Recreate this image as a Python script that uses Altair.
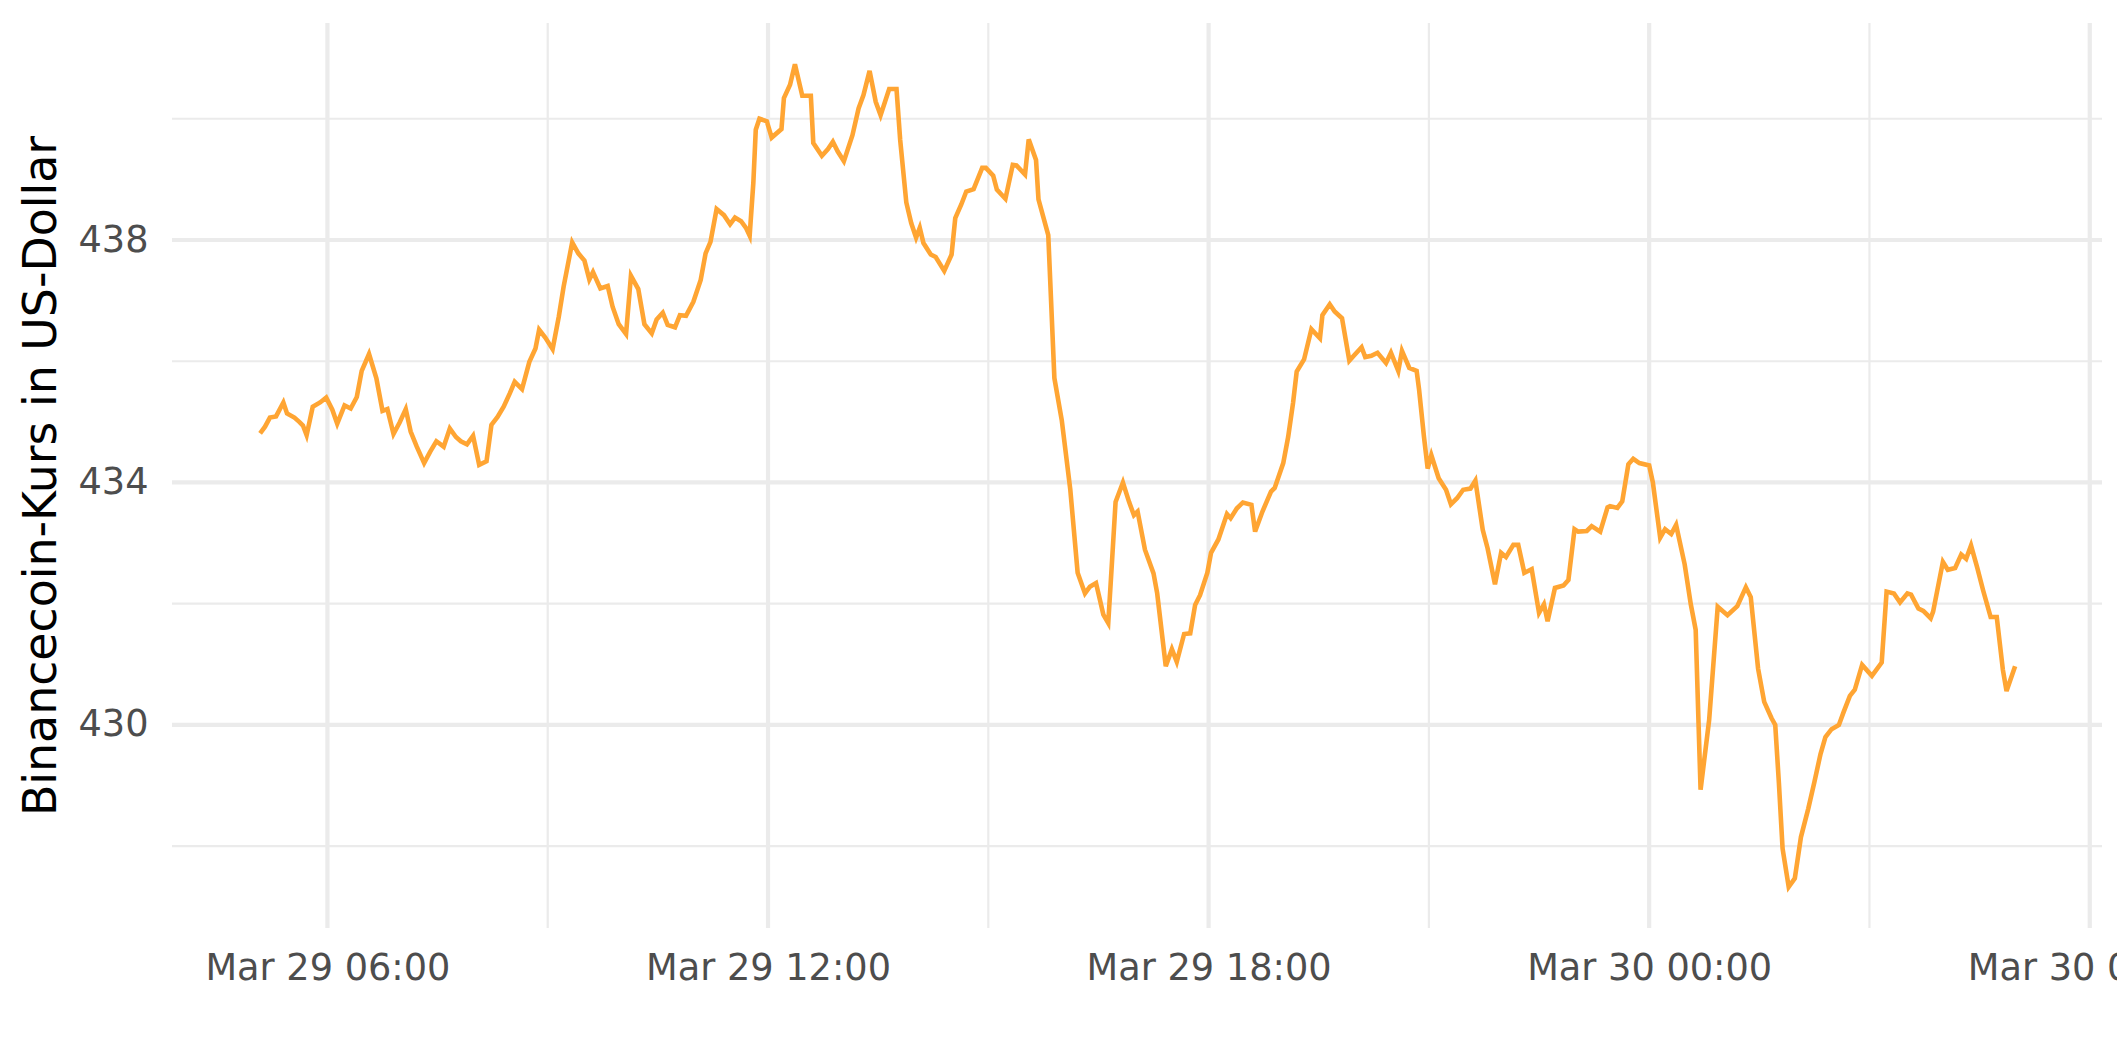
import altair as alt
import pandas as pd

# ---- data ----
times = [
    "2022-03-29T05:05", "2022-03-29T05:09", "2022-03-29T05:13", "2022-03-29T05:18", "2022-03-29T05:24",
    "2022-03-29T05:27", "2022-03-29T05:33", "2022-03-29T05:37", "2022-03-29T05:40", "2022-03-29T05:43",
    "2022-03-29T05:48", "2022-03-29T05:54", "2022-03-29T05:59", "2022-03-29T06:04", "2022-03-29T06:08",
    "2022-03-29T06:14", "2022-03-29T06:19", "2022-03-29T06:24", "2022-03-29T06:28", "2022-03-29T06:34",
    "2022-03-29T06:40", "2022-03-29T06:45", "2022-03-29T06:49", "2022-03-29T06:54", "2022-03-29T06:59",
    "2022-03-29T07:04", "2022-03-29T07:08", "2022-03-29T07:13", "2022-03-29T07:19", "2022-03-29T07:24",
    "2022-03-29T07:29", "2022-03-29T07:35", "2022-03-29T07:40", "2022-03-29T07:45", "2022-03-29T07:49",
    "2022-03-29T07:54", "2022-03-29T07:59", "2022-03-29T08:04", "2022-03-29T08:10", "2022-03-29T08:14",
    "2022-03-29T08:19", "2022-03-29T08:24", "2022-03-29T08:29", "2022-03-29T08:33", "2022-03-29T08:39",
    "2022-03-29T08:45", "2022-03-29T08:50", "2022-03-29T08:53", "2022-03-29T08:58", "2022-03-29T09:04",
    "2022-03-29T09:09", "2022-03-29T09:13", "2022-03-29T09:20", "2022-03-29T09:25", "2022-03-29T09:30",
    "2022-03-29T09:34", "2022-03-29T09:37", "2022-03-29T09:43", "2022-03-29T09:49", "2022-03-29T09:53",
    "2022-03-29T09:58", "2022-03-29T10:04", "2022-03-29T10:08", "2022-03-29T10:14", "2022-03-29T10:19",
    "2022-03-29T10:25", "2022-03-29T10:29", "2022-03-29T10:34", "2022-03-29T10:38", "2022-03-29T10:44",
    "2022-03-29T10:48", "2022-03-29T10:53", "2022-03-29T10:59", "2022-03-29T11:05", "2022-03-29T11:09",
    "2022-03-29T11:13", "2022-03-29T11:18", "2022-03-29T11:24", "2022-03-29T11:29", "2022-03-29T11:33",
    "2022-03-29T11:38", "2022-03-29T11:42", "2022-03-29T11:45", "2022-03-29T11:48", "2022-03-29T11:50",
    "2022-03-29T11:53", "2022-03-29T11:59", "2022-03-29T12:03", "2022-03-29T12:11", "2022-03-29T12:13",
    "2022-03-29T12:18", "2022-03-29T12:22", "2022-03-29T12:28", "2022-03-29T12:35", "2022-03-29T12:37",
    "2022-03-29T12:44", "2022-03-29T12:49", "2022-03-29T12:53", "2022-03-29T12:57", "2022-03-29T13:02",
    "2022-03-29T13:09", "2022-03-29T13:14", "2022-03-29T13:18", "2022-03-29T13:23", "2022-03-29T13:28",
    "2022-03-29T13:32", "2022-03-29T13:39", "2022-03-29T13:45", "2022-03-29T13:48", "2022-03-29T13:53",
    "2022-03-29T13:57", "2022-03-29T14:01", "2022-03-29T14:04", "2022-03-29T14:07", "2022-03-29T14:13",
    "2022-03-29T14:17", "2022-03-29T14:24", "2022-03-29T14:30", "2022-03-29T14:33", "2022-03-29T14:38",
    "2022-03-29T14:42", "2022-03-29T14:48", "2022-03-29T14:55", "2022-03-29T14:58", "2022-03-29T15:04",
    "2022-03-29T15:07", "2022-03-29T15:14", "2022-03-29T15:20", "2022-03-29T15:23", "2022-03-29T15:30",
    "2022-03-29T15:33", "2022-03-29T15:39", "2022-03-29T15:41", "2022-03-29T15:49", "2022-03-29T15:54",
    "2022-03-29T16:00", "2022-03-29T16:07", "2022-03-29T16:13", "2022-03-29T16:19", "2022-03-29T16:23",
    "2022-03-29T16:28", "2022-03-29T16:34", "2022-03-29T16:38", "2022-03-29T16:41", "2022-03-29T16:44",
    "2022-03-29T16:50", "2022-03-29T16:55", "2022-03-29T16:59", "2022-03-29T17:02", "2022-03-29T17:08",
    "2022-03-29T17:15", "2022-03-29T17:18", "2022-03-29T17:25", "2022-03-29T17:30", "2022-03-29T17:34",
    "2022-03-29T17:40", "2022-03-29T17:45", "2022-03-29T17:49", "2022-03-29T17:53", "2022-03-29T17:59",
    "2022-03-29T18:02", "2022-03-29T18:08", "2022-03-29T18:15", "2022-03-29T18:18", "2022-03-29T18:23",
    "2022-03-29T18:28", "2022-03-29T18:35", "2022-03-29T18:38", "2022-03-29T18:44", "2022-03-29T18:51",
    "2022-03-29T18:54", "2022-03-29T19:01", "2022-03-29T19:05", "2022-03-29T19:09", "2022-03-29T19:12",
    "2022-03-29T19:18", "2022-03-29T19:24", "2022-03-29T19:31", "2022-03-29T19:33", "2022-03-29T19:39",
    "2022-03-29T19:43", "2022-03-29T19:49", "2022-03-29T19:55", "2022-03-29T19:59", "2022-03-29T20:05",
    "2022-03-29T20:08", "2022-03-29T20:13", "2022-03-29T20:18", "2022-03-29T20:25", "2022-03-29T20:29",
    "2022-03-29T20:35", "2022-03-29T20:38", "2022-03-29T20:44", "2022-03-29T20:50", "2022-03-29T20:52",
    "2022-03-29T20:56", "2022-03-29T20:59", "2022-03-29T21:02", "2022-03-29T21:08", "2022-03-29T21:14",
    "2022-03-29T21:18", "2022-03-29T21:23", "2022-03-29T21:28", "2022-03-29T21:34", "2022-03-29T21:38",
    "2022-03-29T21:44", "2022-03-29T21:48", "2022-03-29T21:54", "2022-03-29T21:59", "2022-03-29T22:03",
    "2022-03-29T22:09", "2022-03-29T22:13", "2022-03-29T22:18", "2022-03-29T22:24", "2022-03-29T22:30",
    "2022-03-29T22:34", "2022-03-29T22:37", "2022-03-29T22:43", "2022-03-29T22:50", "2022-03-29T22:54",
    "2022-03-29T22:59", "2022-03-29T23:02", "2022-03-29T23:09", "2022-03-29T23:13", "2022-03-29T23:20",
    "2022-03-29T23:26", "2022-03-29T23:28", "2022-03-29T23:34", "2022-03-29T23:38", "2022-03-29T23:43",
    "2022-03-29T23:47", "2022-03-29T23:52", "2022-03-30T00:00", "2022-03-30T00:03", "2022-03-30T00:09",
    "2022-03-30T00:13", "2022-03-30T00:18", "2022-03-30T00:22", "2022-03-30T00:29", "2022-03-30T00:34",
    "2022-03-30T00:38", "2022-03-30T00:42", "2022-03-30T00:49", "2022-03-30T00:56", "2022-03-30T01:04",
    "2022-03-30T01:12", "2022-03-30T01:19", "2022-03-30T01:23", "2022-03-30T01:29", "2022-03-30T01:34",
    "2022-03-30T01:40", "2022-03-30T01:43", "2022-03-30T01:46", "2022-03-30T01:49", "2022-03-30T01:54",
    "2022-03-30T01:59", "2022-03-30T02:04", "2022-03-30T02:10", "2022-03-30T02:15", "2022-03-30T02:20",
    "2022-03-30T02:24", "2022-03-30T02:29", "2022-03-30T02:35", "2022-03-30T02:39", "2022-03-30T02:44",
    "2022-03-30T02:48", "2022-03-30T02:54", "2022-03-30T03:02", "2022-03-30T03:10", "2022-03-30T03:14",
    "2022-03-30T03:20", "2022-03-30T03:25", "2022-03-30T03:31", "2022-03-30T03:34", "2022-03-30T03:40",
    "2022-03-30T03:44", "2022-03-30T03:50", "2022-03-30T03:52", "2022-03-30T04:00", "2022-03-30T04:04",
    "2022-03-30T04:10", "2022-03-30T04:15", "2022-03-30T04:19", "2022-03-30T04:23", "2022-03-30T04:28",
    "2022-03-30T04:33", "2022-03-30T04:39", "2022-03-30T04:44", "2022-03-30T04:49", "2022-03-30T04:52",
    "2022-03-30T04:59",
]

prices = [
    434.81, 434.92, 435.07, 435.09, 435.32, 435.14, 435.07, 435.00, 434.94, 434.78,
    435.25, 435.32, 435.40, 435.20, 434.97, 435.27, 435.22, 435.41, 435.84, 436.12,
    435.72, 435.18, 435.21, 434.80, 434.99, 435.21, 434.84, 434.59, 434.32, 434.51,
    434.68, 434.59, 434.89, 434.75, 434.68, 434.63, 434.77, 434.29, 434.35, 434.95,
    435.08, 435.25, 435.47, 435.66, 435.54, 435.99, 436.21, 436.52, 436.39, 436.20,
    436.73, 437.23, 437.96, 437.78, 437.66, 437.35, 437.47, 437.20, 437.24, 436.90,
    436.61, 436.45, 437.41, 437.19, 436.61, 436.46, 436.69, 436.80, 436.60, 436.56,
    436.76, 436.75, 436.98, 437.34, 437.78, 437.97, 438.51, 438.41, 438.26, 438.37,
    438.31, 438.20, 438.07, 438.94, 439.82, 440.00, 439.96, 439.69, 439.83, 440.34,
    440.56, 440.90, 440.38, 440.38, 439.60, 439.39, 439.50, 439.62, 439.46, 439.30,
    439.73, 440.17, 440.39, 440.79, 440.28, 440.06, 440.49, 440.49, 439.65, 438.62,
    438.28, 438.04, 438.20, 437.95, 437.76, 437.72, 437.49, 437.76, 438.36, 438.59,
    438.80, 438.84, 439.19, 439.19, 439.06, 438.83, 438.68, 439.24, 439.23, 439.08,
    439.66, 439.32, 438.67, 438.08, 435.72, 435.03, 433.88, 432.51, 432.17, 432.28,
    432.34, 431.82, 431.68, 432.67, 433.68, 434.00, 433.68, 433.46, 433.52, 432.89,
    432.50, 432.17, 430.97, 431.25, 431.04, 431.50, 431.51, 431.98, 432.14, 432.51,
    432.84, 433.06, 433.48, 433.41, 433.57, 433.67, 433.63, 433.19, 433.52, 433.85,
    433.91, 434.32, 434.75, 435.31, 435.83, 436.03, 436.53, 436.38, 436.76, 436.94,
    436.82, 436.71, 436.01, 436.10, 436.23, 436.07, 436.09, 436.14, 435.97, 436.14,
    435.84, 436.17, 435.89, 435.84, 435.53, 434.75, 434.23, 434.45, 434.07, 433.88,
    433.64, 433.74, 433.88, 433.90, 434.03, 433.22, 432.91, 432.32, 432.84, 432.77,
    432.97, 432.97, 432.51, 432.57, 431.85, 431.99, 431.71, 432.26, 432.30, 432.39,
    433.23, 433.19, 433.20, 433.28, 433.19, 433.59, 433.61, 433.58, 433.69, 434.30,
    434.39, 434.32, 434.28, 434.00, 433.09, 433.23, 433.15, 433.30, 432.65, 431.99,
    431.57, 428.93, 430.08, 431.95, 431.81, 431.96, 432.27, 432.11, 430.93, 430.38,
    430.11, 430.00, 429.04, 427.96, 427.33, 427.47, 428.15, 428.62, 429.06, 429.52,
    429.80, 429.93, 430.00, 430.22, 430.48, 430.58, 430.99, 430.81, 431.03, 432.20,
    432.17, 432.02, 432.17, 432.15, 431.92, 431.88, 431.76, 431.87, 432.69, 432.56,
    432.59, 432.81, 432.74, 432.96, 432.60, 432.21, 431.78, 431.78, 430.91, 430.56,
    430.97,
]

x_major = ["2022-03-29T06:00", "2022-03-29T12:00", "2022-03-29T18:00",
           "2022-03-30T00:00", "2022-03-30T06:00"]
x_minor = ["2022-03-29T09:00", "2022-03-29T15:00", "2022-03-29T21:00",
           "2022-03-30T03:00"]
y_major = [430, 434, 438]
y_minor = [428, 432, 436, 440]
x_domain = ["2022-03-29T03:53", "2022-03-30T06:10"]
y_domain = [426.65, 441.58]


def dt(s):
    t = pd.Timestamp(s)
    return alt.DateTime(year=t.year, month=t.month, date=t.day,
                        hours=t.hour, minutes=t.minute)


df = pd.DataFrame({"t": times, "price": prices})
grid_col = "#EBEBEB"
FONT = "DejaVu Sans"

xscale = alt.Scale(domain=[dt(s) for s in x_domain])
yscale = alt.Scale(domain=y_domain, nice=False, zero=False)

x_axis = alt.Axis(values=[dt(s) for s in x_major], format="%b %d %H:%M",
                  title=None, grid=False, ticks=False, domain=False,
                  labelFont=FONT, labelFontSize=36.7, labelColor="#4D4D4D",
                  labelPadding=22, labelOverlap=False, labelFlush=False,
                  labelLimit=1000)
y_axis = alt.Axis(values=y_major, format="d",
                  title="Binancecoin-Kurs in US-Dollar",
                  grid=False, ticks=False, domain=False,
                  labelFont=FONT, labelFontSize=36.7, labelColor="#4D4D4D",
                  labelPadding=24, labelLimit=1000,
                  titleFont=FONT, titleFontSize=45.8, titleFontWeight="normal",
                  titleColor="#000000", titlePadding=12, titleLimit=2000)

vmin = alt.Chart(pd.DataFrame({"t": x_minor})).mark_rule(
    color=grid_col, strokeWidth=2.2).encode(
    x=alt.X("t:T", scale=xscale, axis=x_axis))
vmaj = alt.Chart(pd.DataFrame({"t": x_major})).mark_rule(
    color=grid_col, strokeWidth=4.2).encode(
    x=alt.X("t:T", scale=xscale, axis=x_axis))
hmin = alt.Chart(pd.DataFrame({"price": y_minor})).mark_rule(
    color=grid_col, strokeWidth=2.2).encode(
    y=alt.Y("price:Q", scale=yscale, axis=y_axis))
hmaj = alt.Chart(pd.DataFrame({"price": y_major})).mark_rule(
    color=grid_col, strokeWidth=4.2).encode(
    y=alt.Y("price:Q", scale=yscale, axis=y_axis))

line = alt.Chart(df).mark_line(color="#FFA533", strokeWidth=4.6, clip=True).encode(
    x=alt.X("t:T", scale=xscale, axis=x_axis),
    y=alt.Y("price:Q", scale=yscale, axis=y_axis),
)

chart = alt.layer(vmin, vmaj, hmin, hmaj, line).properties(
    width=1930, height=905,
    autosize=alt.AutoSizeParams(type="none"),
    padding={"left": 164, "top": 15, "right": 15, "bottom": 126},
    background="white",
).configure_view(stroke=None)

chart.save("out.html", embed_options={"renderer": "svg", "actions": False})
